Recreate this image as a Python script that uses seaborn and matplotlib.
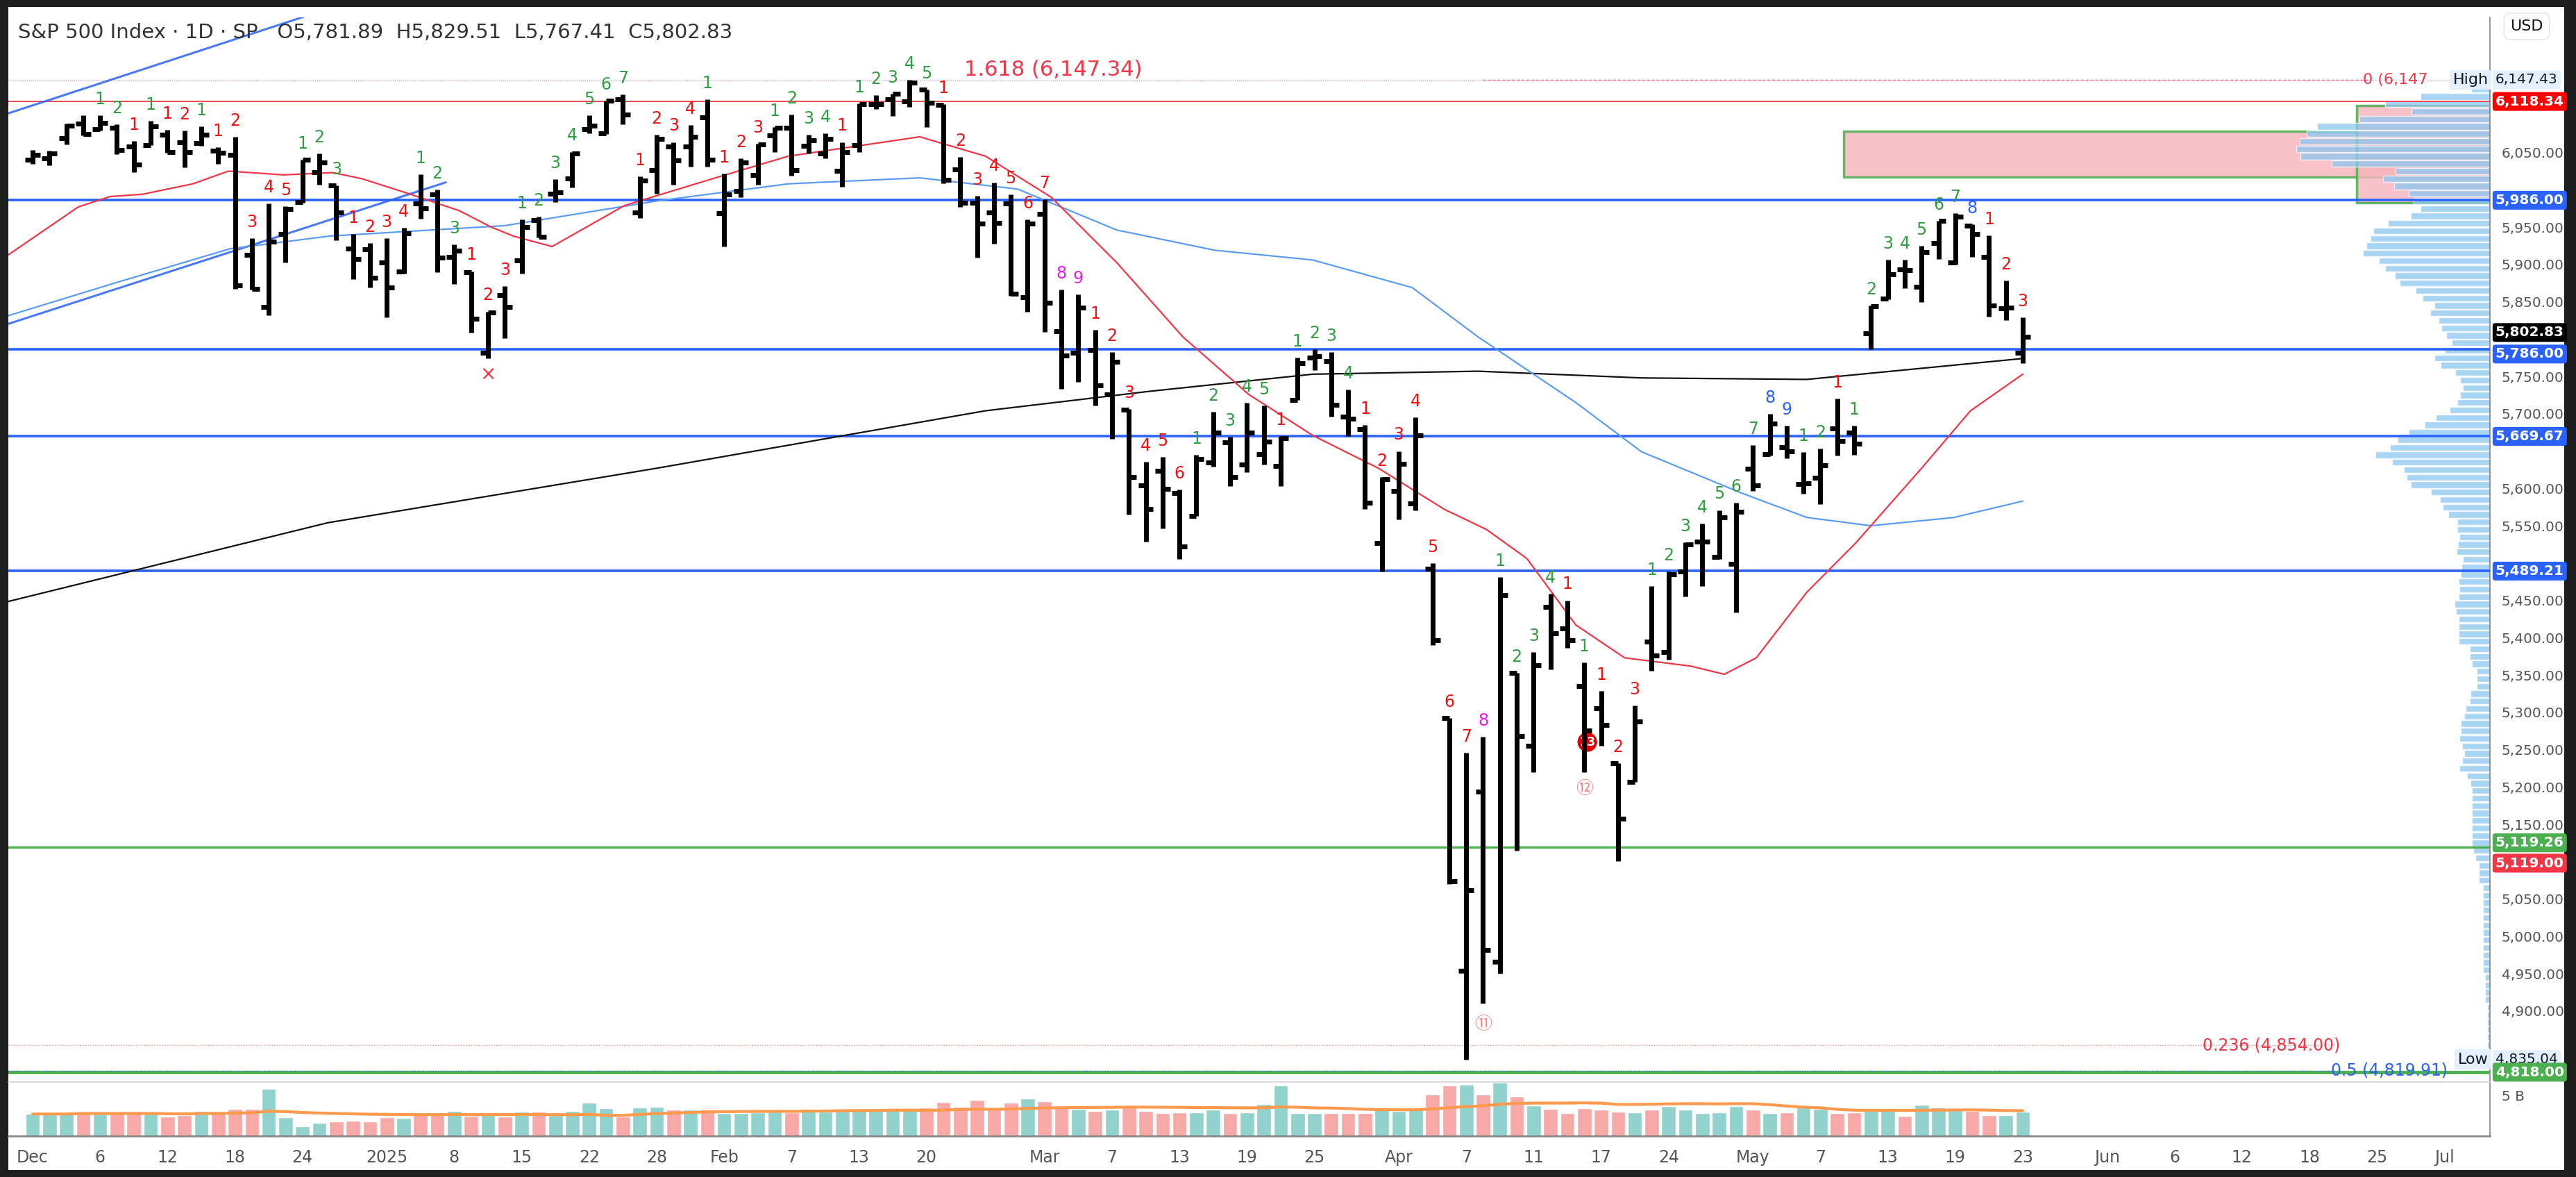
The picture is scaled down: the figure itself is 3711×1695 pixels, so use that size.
import numpy as np
import pandas as pd
import matplotlib
matplotlib.use("Agg")
import matplotlib.pyplot as plt
import matplotlib.transforms as mtrans
from matplotlib.patches import Rectangle
import seaborn as sns

sns.set_theme(style="white")
plt.rcParams['font.family'] = ['DejaVu Sans', 'Noto Sans CJK JP']

# ---- data (S&P 500 daily, Dec 2 2024 - May 23 2025) ----
holidays = ['2024-12-25', '2025-01-01', '2025-01-09', '2025-01-20', '2025-02-17',
            '2025-04-18', '2025-05-26', '2025-06-19', '2025-07-04']

opens = [6040, 6042, 6069, 6089, 6081, 6083, 6058, 6060, 6074, 6064, 6063, 6052, 6047, 5913, 5843, 5941, 5984, 6024, 6006, 5921, 5920,
         5903, 5891, 5982, 5994, 5910, 5890, 5782, 5859, 5905, 5959, 5995, 6015, 6081, 6076, 6121, 5970, 6026, 6058, 6058, 6097,
         5969, 5998, 6020, 6073, 6083, 6059, 6049, 6025, 6060, 6115, 6121, 6118, 6134, 6114, 6027, 5983, 5970, 5982, 5856,
         5968, 5811, 5782, 5785, 5726, 5705, 5604, 5624, 5594, 5563, 5635, 5662, 5632, 5646, 5630, 5718, 5775, 5771, 5696, 5679, 5527,
         5597, 5580, 5492, 5292, 4954, 5194, 4966, 5353, 5255, 5441, 5412, 5335, 5305, 5232, 5207, 5395, 5381, 5489, 5529, 5508, 5499,
         5626, 5646, 5655, 5606, 5614, 5680, 5675, 5808, 5854, 5893, 5870, 5929, 5903, 5952, 5910, 5841, 5781.89]
highs = [6053, 6052, 6089, 6100, 6100, 6088, 6065, 6092, 6080, 6079, 6085, 6057, 6071, 5935, 5982, 5978, 6040, 6049, 6006, 5941, 5929,
         5935, 5949, 6021, 6000, 5927, 5891, 5837, 5871, 5960, 5964, 6014, 6051, 6100, 6119, 6128, 6018, 6074, 6064, 6087, 6121,
         6022, 6042, 6062, 6084, 6101, 6074, 6076, 6064, 6116, 6127, 6129, 6147, 6134, 6115, 6044, 5992, 6010, 5994, 5960,
         5987, 5866, 5860, 5812, 5783, 5706, 5636, 5642, 5598, 5645, 5703, 5669, 5715, 5711, 5670, 5775, 5786, 5783, 5732, 5685, 5615,
         5650, 5695, 5500, 5292, 5246, 5267, 5481, 5353, 5381, 5459, 5450, 5367, 5329, 5232, 5309, 5469, 5489, 5528, 5553, 5571, 5581,
         5658, 5700, 5684, 5649, 5653, 5720, 5684, 5845, 5906, 5906, 5925, 5958, 5969, 5954, 5939, 5878, 5829.51]
lows = [6035, 6033, 6061, 6073, 6079, 6048, 6024, 6060, 6050, 6030, 6059, 6035, 5867, 5866, 5832, 5903, 5983, 6007, 5932, 5880, 5869,
        5829, 5888, 5961, 5890, 5874, 5809, 5774, 5801, 5888, 5936, 5984, 6003, 6076, 6075, 6088, 5962, 5995, 6007, 6031, 6031,
        5924, 5990, 6007, 6051, 6019, 6049, 6042, 6004, 6051, 6108, 6099, 6111, 6084, 6009, 5977, 5909, 5928, 5858, 5837,
        5810, 5733, 5743, 5711, 5666, 5565, 5529, 5546, 5505, 5563, 5629, 5603, 5622, 5632, 5603, 5718, 5758, 5696, 5670, 5572, 5489,
        5558, 5571, 5390, 5070, 4835.04, 4910, 4950, 5115, 5220, 5358, 5386, 5220, 5255, 5101, 5207, 5356, 5371, 5455, 5469, 5505, 5434,
        5597, 5644, 5640, 5593, 5579, 5644, 5645, 5786, 5853, 5868, 5850, 5907, 5900, 5910, 5830, 5825, 5767.41]
closes = [6047, 6049, 6086, 6075, 6090, 6053, 6034, 6085, 6051, 6051, 6074, 6050, 5872, 5867, 5931, 5974, 6040, 6037, 5970, 5907, 5882,
          5869, 5942, 5975, 5909, 5918, 5827, 5836, 5843, 5950, 5937, 5997, 6049, 6086, 6119, 6101, 6012, 6068, 6039, 6071, 6040,
          5994, 6037, 6061, 6083, 6026, 6066, 6068, 6051, 6115, 6115, 6129, 6144, 6117, 6013, 5983, 5955, 5956, 5861, 5955,
          5849, 5778, 5842, 5738, 5770, 5615, 5572, 5599, 5522, 5639, 5675, 5615, 5675, 5663, 5667, 5768, 5777, 5712, 5693, 5581, 5612,
          5633, 5671, 5397, 5074, 5062, 4982, 5457, 5268, 5363, 5406, 5397, 5276, 5283, 5158, 5288, 5376, 5485, 5525, 5529, 5561, 5569,
          5604, 5687, 5650, 5607, 5631, 5664, 5660, 5844, 5887, 5892, 5917, 5958, 5964, 5941, 5845, 5842, 5802.83]
volume_b = [2.7, 2.7, 2.7, 3.0, 2.7, 2.8, 2.8, 2.8, 2.4, 2.6, 3.1, 3.0, 3.3, 3.3, 5.8, 2.3, 1.2, 1.6, 1.8, 1.9, 1.8,
            2.3, 2.2, 2.8, 2.8, 3.1, 2.5, 2.8, 2.4, 3.0, 3.0, 2.6, 3.1, 4.1, 3.4, 2.4, 3.5, 3.6, 3.2, 3.2, 3.2,
            2.8, 2.8, 2.9, 3.0, 2.9, 3.3, 3.0, 3.2, 3.3, 3.2, 3.4, 3.2, 3.5, 4.2, 3.6, 4.4, 3.2, 4.1, 4.6,
            4.3, 3.4, 3.3, 3.1, 3.2, 3.6, 3.1, 2.8, 2.9, 2.9, 3.2, 2.8, 2.9, 3.9, 6.2, 2.8, 2.8, 2.8, 2.8, 2.8, 3.4,
            3.1, 3.4, 5.1, 6.2, 6.3, 5.1, 6.6, 4.9, 3.75, 3.3, 2.8, 3.4, 3.2, 3.0, 2.9, 3.2, 3.7, 3.2, 2.8, 2.9, 3.7,
            3.2, 2.8, 2.9, 3.7, 3.3, 2.8, 2.9, 3.4, 3.4, 2.5, 3.8, 3.5, 3.4, 3.1, 2.6, 2.6, 3.0]

# moving averages (bar index, price)
ma20_idx = [-1.5, 2.7, 4.6, 6.5, 9.5, 11.6, 14.9, 17.8, 19.5, 22, 25.3, 27.2, 28.5, 30.8, 35.1, 39.9, 44.8, 52.6,
            56.5, 60.4, 64.3, 68.2, 72.1, 75.9, 79.8, 83.7, 86.2, 88.6, 91.5, 94.4, 98.3, 100.3, 102.2, 105.2,
            108.1, 112, 114.9, 118]
ma20_val = [5912, 5977, 5991, 5994, 6008, 6025, 6020, 6023, 6015, 5997, 5972, 5950, 5938, 5924, 5979, 6012, 6045, 6071,
            6045, 5990, 5902, 5803, 5726, 5671, 5627, 5572, 5545, 5506, 5417, 5373, 5362, 5351, 5373, 5461,
            5527, 5627, 5704, 5753]
ma50_idx = [-1.5, 5, 11.7, 17.6, 28, 37, 44.8, 52.6, 58.4, 64.3, 70.1, 75.9, 81.8, 85.7, 91.5, 95.4, 101.3, 105.2, 109, 113.9, 118]
ma50_val = [5831, 5876, 5921, 5938, 5952, 5985, 6008, 6016, 6001, 5946, 5919, 5906, 5869, 5803, 5715, 5649, 5594, 5561, 5550, 5561, 5583]
ma200_idx = [-1.9, 17.5, 37, 56.5, 66.2, 75.9, 85.7, 95.4, 105.2, 118]
ma200_val = [5446, 5554, 5627, 5704, 5730, 5753, 5757, 5748, 5746, 5774]
trend_idx = [-1.5, 18.0]
trend_val = [6102, 6246]
trend2_idx = [-1.5, 24.5]
trend2_val = [5820, 6010]

levels_blue = [5986.00, 5786.00, 5669.67, 5489.21]
level_red = 6118.34
level_green = 5119.26

tick_dates = ['2024-12-02', '2024-12-06', '2024-12-12', '2024-12-18', '2024-12-24', '2025-01-02', '2025-01-08',
              '2025-01-15', '2025-01-22', '2025-01-28', '2025-02-03', '2025-02-07', '2025-02-13', '2025-02-20',
              '2025-03-03', '2025-03-07', '2025-03-13', '2025-03-19', '2025-03-25', '2025-04-01', '2025-04-07',
              '2025-04-11', '2025-04-17', '2025-04-24', '2025-05-01', '2025-05-07', '2025-05-13', '2025-05-19',
              '2025-05-23', '2025-06-02', '2025-06-06', '2025-06-12', '2025-06-18', '2025-06-25', '2025-07-01']
tick_labels = ['Dec', '6', '12', '18', '24', '2025', '8', '15', '22', '28', 'Feb', '7', '13', '20', 'Mar', '7', '13',
               '19', '25', 'Apr', '7', '11', '17', '24', 'May', '7', '13', '19', '23', 'Jun', '6', '12', '18', '25', 'Jul']

# ---- derived ----
days = pd.bdate_range('2024-12-02', '2025-07-10')
days = days[~days.isin(pd.to_datetime(holidays))]
pos = {d: i for i, d in enumerate(days)}
df = pd.DataFrame({'o': opens, 'h': highs, 'l': lows, 'c': closes, 'v': volume_b})
df['x'] = np.arange(len(df))
n = len(df)

W, H = 3712, 1695
fig = plt.figure(figsize=(W / 100, H / 100), dpi=100, facecolor='#1e1e1e')
fig.patches.append(Rectangle((12 / W, 10 / H), (3694 - 12) / W, (1685 - 10) / H, transform=fig.transFigure,
                             facecolor='white', edgecolor='none', zorder=-5))

def fx(px):
    return px / W

def fy(px):
    return 1 - px / H

ax = fig.add_axes([fx(12), fy(1558), fx(3587 - 12), (1558 - 25) / H])
axv = fig.add_axes([fx(12), fy(1636), fx(3587 - 12), (1636 - 1558) / H], sharex=ax)
for a in (ax, axv):
    a.set_facecolor('none')
    for s in a.spines.values():
        s.set_visible(False)
ax.spines['right'].set_visible(True)
ax.spines['right'].set_color('#888888')
axv.spines['right'].set_visible(True)
axv.spines['right'].set_color('#888888')
axv.spines['top'].set_visible(True)
axv.spines['top'].set_color('#d0d3da')
axv.spines['bottom'].set_visible(True)
axv.spines['bottom'].set_color('#888888')
axv.spines['bottom'].set_linewidth(2)

ymin, ymax = 4805, 6231
ax.set_xlim(-1.44, 145.7)
ax.set_ylim(ymin, ymax)

# volume profile
bins = np.arange(4800, 6240, 10)
prof = np.zeros(len(bins) - 1)
for _, r in df.iterrows():
    lo, hi = r['l'], r['h']
    ov = np.clip(np.minimum(bins[1:], hi) - np.maximum(bins[:-1], lo), 0, None)
    if ov.sum() > 0:
        prof += r['v'] * ov / ov.sum()
prof_w = prof / prof.max() * 11.5
xr = 145.7

# pink supply boxes
ax.add_patch(Rectangle((107.4, 6017), xr - 107.4, 61, facecolor='#f7b5bd', edgecolor='#4caf50', lw=2.5, alpha=0.85, zorder=1))
ax.add_patch(Rectangle((137.8, 5983), xr - 137.8, 130, facecolor='#f7b5bd', edgecolor='#4caf50', lw=2.5, alpha=0.85, zorder=1))
ax.barh(bins[:-1] + 5, prof_w, height=8.5, left=xr - prof_w, color='#8cc8f2', alpha=0.75, zorder=2)

# horizontal levels
for lv in levels_blue:
    ax.axhline(lv, color='#2962ff', lw=2.6, zorder=3)
ax.axhline(level_red, color='#f23645', lw=1.3, zorder=3)
ax.axhline(level_green, color='#4caf50', lw=2.4, zorder=3)
ax.axhline(4818, color='#4caf50', lw=3.5, zorder=3)
ax.hlines(4819.91, -1.44, 136.5, color='#2962ff', lw=1, linestyles=':', zorder=3)
ax.hlines(4854, -1.44, 136.5, color='#f23645', lw=1, linestyles=':', alpha=0.6, zorder=3)
ax.hlines(6147.34, 86, 138.5, color='#f23645', lw=1, linestyles=(0, (3, 2)), alpha=0.7, zorder=3)
ax.axhline(6147.43, color='#c896c8', lw=0.8, linestyle=':', zorder=1)

# trend lines
ax.plot(trend_idx, trend_val, color='#2962ff', lw=2.2, zorder=3, alpha=0.85)
ax.plot(trend2_idx, trend2_val, color='#2962ff', lw=2.2, zorder=3, alpha=0.85)

# moving averages
ax.plot(ma200_idx, ma200_val, color='#111111', lw=1.6, zorder=4)
ax.plot(ma50_idx, ma50_val, color='#5b9cf6', lw=1.6, zorder=4)
ax.plot(ma20_idx, ma20_val, color='#f23645', lw=1.6, zorder=4)

# OHLC bars
ax.vlines(df['x'], df['l'], df['h'], color='black', lw=5, zorder=5)
ax.hlines(df['o'], df['x'] - 0.45, df['x'], color='black', lw=5, zorder=5)
ax.hlines(df['c'], df['x'], df['x'] + 0.45, color='black', lw=5, zorder=5)

# TD setup counts
buy = sell = 0
for i in range(4, n):
    if closes[i] > closes[i - 4]:
        sell = sell + 1 if sell < 9 else 1
        buy = 0
        col = '#2962ff' if sell >= 8 else '#2e9e3e'
        num = sell
    elif closes[i] < closes[i - 4]:
        buy = buy + 1 if buy < 9 else 1
        sell = 0
        col = '#e91ee9' if buy >= 8 else '#f01010'
        num = buy
    else:
        continue
    ax.annotate(str(num), (i, highs[i]), xytext=(0, 8), textcoords='offset points', ha='center', va='bottom',
                fontsize=17, color=col, zorder=6)

# special markers
circ = ['Noto Sans CJK JP', 'DejaVu Sans']
ax.annotate('×', (27, lows[27]), xytext=(0, -6), textcoords='offset points', ha='center', va='top', fontsize=20, color='#f23645')
ax.annotate('⑪', (86, lows[86]), xytext=(0, -12), textcoords='offset points', ha='center', va='top', fontsize=18,
            color='#f58080', family=circ)
ax.annotate('⑫', (92, lows[92]), xytext=(0, -8), textcoords='offset points', ha='center', va='top', fontsize=18,
            color='#f58080', family=circ)
ax.annotate('13', (93, lows[93]), xytext=(-6, 4), textcoords='offset points', ha='right', va='center', fontsize=12,
            color='white', fontweight='bold', bbox=dict(boxstyle='circle,pad=0.15', fc='#e00000', ec='none'))

# fib texts
ax.text(60.5, 6147.34, '1.618 (6,147.34)', color='#f23645', fontsize=22, ha='center', va='bottom')
ax.text(142.0, 6147.34, '0 (6,147', color='#f23645', fontsize=16, ha='right', va='center')
ax.text(145.6, 6147.43, 'High', color='#131722', fontsize=16, ha='right', va='center',
        bbox=dict(fc='#e3effd', ec='none', pad=3))
ax.text(145.6, 4835.04, 'Low', color='#131722', fontsize=16, ha='right', va='center',
        bbox=dict(fc='#e3effd', ec='none', pad=3))
ax.text(136.8, 4854, '0.236 (4,854.00)', color='#f23645', fontsize=17, ha='right', va='center')
ax.text(143.2, 4819.91, '0.5 (4,819.91)', color='#2962ff', fontsize=17, ha='right', va='center')

# header
fig.text(fx(26), fy(47), 'S&P 500 Index · 1D · SP   O5,781.89  H5,829.51  L5,767.41  C5,802.83',
         color='#333333', fontsize=21, ha='left', va='center')

# right price axis
boxes = [(6147.43, '#e3effd', '#131722'), (6118.34, '#ff0000', 'white'), (5986.00, '#2962ff', 'white'),
         (5802.83, '#000000', 'white'), (5786.00, '#2962ff', 'white'), (5669.67, '#2962ff', 'white'),
         (5489.21, '#2962ff', 'white'), (5119.26, '#4caf50', 'white'), (5119.00, '#f23645', 'white'),
         (4835.04, '#e3effd', '#131722'), (4818.00, '#4caf50', 'white')]
tick_vals = [v for v in np.arange(4850, 6101, 50) if min(abs(v - b[0]) for b in boxes) > 20]
ax.yaxis.tick_right()
ax.set_yticks(tick_vals)
ax.set_yticklabels([f'{v:,.2f}' for v in tick_vals], fontsize=14.5, color='#555555')
ax.tick_params(axis='y', length=0, pad=12)
ax.tick_params(axis='x', length=0, labelbottom=False)

tr = mtrans.blended_transform_factory(ax.transAxes, ax.transData)
shift = {5119.26: 6, 5119.00: -21, 5802.83: 6, 5786.00: -6}
for val, fc, tc in boxes:
    yv = val + shift.get(val, 0)
    ax.text(1.0022, yv, f'{val:,.2f}', transform=tr, fontsize=14.5, color=tc, ha='left', va='center',
            fontweight='bold' if tc == 'white' else 'normal', zorder=10,
            bbox=dict(boxstyle='round,pad=0.2', fc=fc, ec='none'))
fig.text(fx(3640), fy(38), 'USD', fontsize=16, color='#131722', ha='center', va='center',
         bbox=dict(boxstyle='round,pad=0.4', fc='white', ec='#e0e3eb'))

# volume pane
vcol = np.where(df['c'] >= df['o'], '#92d2cc', '#f7a9a7')
axv.bar(df['x'], df['v'], width=0.85, color=vcol, zorder=2)
vma = df['v'].rolling(20, min_periods=1).mean()
sns.lineplot(x=df['x'], y=vma, ax=axv, color='#ff9a4d', lw=3, zorder=3)
axv.set_ylim(0, 6.65)
axv.set_ylabel('')
axv.yaxis.tick_right()
axv.set_yticks([5])
axv.set_yticklabels(['5 B'], fontsize=14.5, color='#555555')
axv.tick_params(axis='y', length=0, pad=12)

xt = [pos[pd.Timestamp(d)] for d in tick_dates]
axv.set_xticks(xt)
axv.set_xticklabels(tick_labels, fontsize=17, color='#555555')
axv.tick_params(axis='x', length=0, pad=14)
axv.set_xlabel('')
ax.set_xlim(-1.44, 145.7)

fig.savefig('out.png', dpi=100, facecolor=fig.get_facecolor())
